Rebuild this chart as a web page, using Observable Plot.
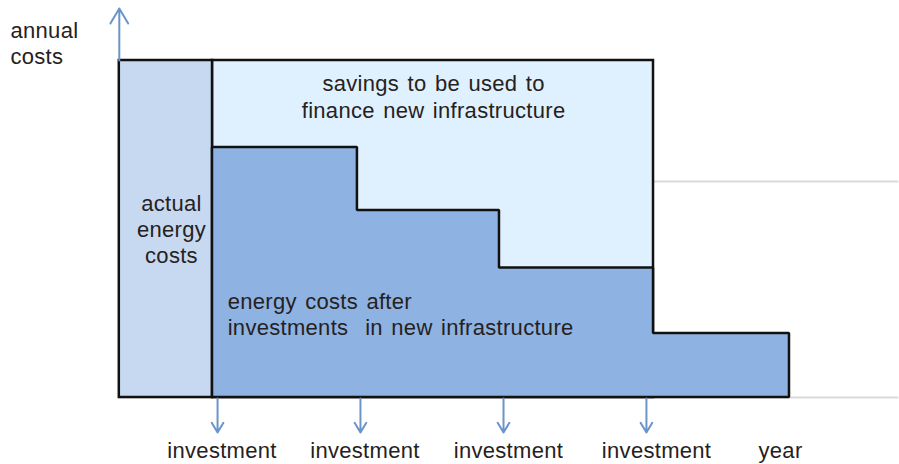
<!DOCTYPE html>
<html>
<head>
<meta charset="utf-8">
<script src="https://cdn.jsdelivr.net/npm/d3@7"></script>
<script src="https://cdn.jsdelivr.net/npm/@observablehq/plot@0.6"></script>
<style>
  html, body { margin: 0; padding: 0; background: #fff; }
  svg { display: block; }
  svg text { letter-spacing: 0.3px; word-spacing: 2px; }
</style>
</head>
<body>
<div id="chart"></div>
<script>
// ---- data (x in "years" since first investment, y in cost units; 100 = actual annual costs) ----
const actualCostStart = -0.645;            // start of the "actual energy costs" period
const actualCost = 100;                    // actual annual energy costs
const stepYears = [0, 1.003, 1.986, 3.052, 3.993];   // period boundaries after each investment
const stepCosts = [74.2, 55.5, 38.4, 19.0, 19.0];    // energy costs after each investment
const savingsEnd = 3.052;                  // end of savings box
const referenceLevel = 64.1;               // grey reference line level
const axisEnd = 4.75;                      // right end of the time axis
const investYears = [0.035, 1.024, 2.014, 3.003];   // investment arrows
const tickLabels = ["investment", "investment", "investment", "investment", "year"];
const tickLabelX = [0.066, 1.055, 2.048, 3.073, 3.931];

const stepData = stepYears.map((x, i) => ({x, y: stepCosts[i]}));
const ticks = tickLabels.map((t, i) => ({x: tickLabelX[i], t}));

const ink = "#262121";
const arrowBlue = "#6b94c9";
const black = "#111";

const chart = Plot.plot({
  width: 899,
  height: 464,
  margin: 0,
  style: {fontFamily: "'Liberation Sans', Arial, sans-serif", background: "#fff"},
  x: {type: "linear", domain: [0, 4], range: [212, 790], axis: null},
  y: {type: "linear", domain: [0, 100], range: [397, 60], axis: null},
  marks: [
    // grey reference lines
    Plot.ruleY([0], {x1: actualCostStart, x2: axisEnd, stroke: "#d9d9d9", strokeWidth: 2}),
    Plot.ruleY([referenceLevel], {x1: savingsEnd, x2: axisEnd, stroke: "#d9d9d9", strokeWidth: 2}),
    // savings box
    Plot.rect([0], {x1: 0, x2: savingsEnd, y1: 0, y2: actualCost, fill: "#dff0fe", stroke: black, strokeWidth: 2.5}),
    // actual energy costs box
    Plot.rect([0], {x1: actualCostStart, x2: 0, y1: 0, y2: actualCost, fill: "#c6d9f0", stroke: black, strokeWidth: 2.5}),
    // energy costs after investments (step area)
    Plot.areaY(stepData, {x: "x", y: "y", curve: "step-after", fill: "#8eb3e2", stroke: black, strokeWidth: 2.5, strokeLinejoin: "miter"}),
    // y axis arrow
    Plot.arrow([0], {x1: actualCostStart, y1: actualCost, x2: actualCostStart, y2: 115.4,
      stroke: arrowBlue, strokeWidth: 2, headLength: 14, headAngle: 62, insetEnd: 0, insetStart: 0}),
    // investment arrows
    Plot.arrow(investYears, {x1: d => d, x2: d => d, y1: -0.3, y2: -10.4,
      stroke: arrowBlue, strokeWidth: 2, headLength: 13, headAngle: 62, insetEnd: 0, insetStart: 0}),
    // tick labels
    Plot.text(ticks, {x: "x", y: -16, text: "t", fontSize: 22, fill: ink, lineAnchor: "middle"}),
    // annotations
    Plot.text(["annual\ncosts"], {x: -1.398, y: 105.4, text: d => d, textAnchor: "start", fontSize: 22, lineHeight: 1.18, fill: ink}),
    Plot.text(["savings to be used to\nfinance new infrastructure"], {x: 1.53, y: 89.5, text: d => d, fontSize: 22, lineHeight: 1.25, fill: ink}),
    Plot.text(["actual\nenergy\ncosts"], {x: -0.284, y: 50.2, text: d => d, fontSize: 22, lineHeight: 1.18, fill: ink}),
    Plot.text(["energy costs after\ninvestments  in new infrastructure"], {x: 0.105, y: 24.9, text: d => d, textAnchor: "start", fontSize: 22, lineHeight: 1.2, fill: ink})
  ]
});
document.getElementById("chart").appendChild(chart);
</script>
</body>
</html>
